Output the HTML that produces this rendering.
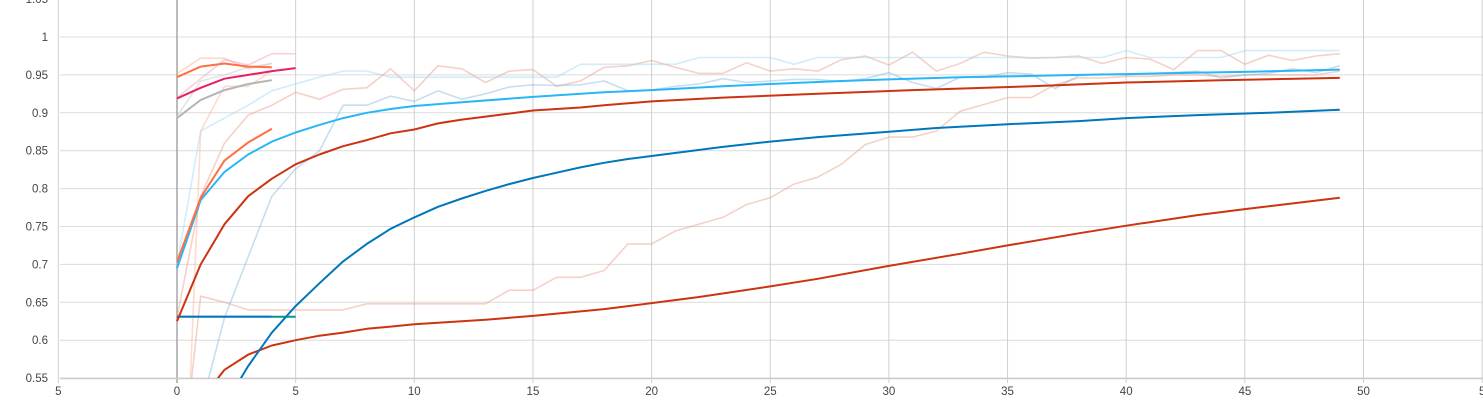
<!DOCTYPE html>
<html><head><meta charset="utf-8">
<style>
html,body{margin:0;padding:0;background:#fff;width:1483px;height:400px;overflow:hidden;}
svg{display:block;font-family:"Liberation Sans","DejaVu Sans",sans-serif;overflow:hidden;}
</style></head>
<body>
<svg id="chart" width="1483" height="400" viewBox="0 0 1483 400" xmlns="http://www.w3.org/2000/svg">
<defs><clipPath id="plotclip"><rect x="60" y="0" width="1423" height="378"/></clipPath></defs>
<g id="grid"></g>
<g id="series" clip-path="url(#plotclip)"></g>
<g id="axes"></g>
</svg>
<script>
const xTicks = [-5, 0, 5, 10, 15, 20, 25, 30, 35, 40, 45, 50, 55];
const xTickLabels = ["5","0","5","10","15","20","25","30","35","40","45","50","5"];
const yTicks = [0.55,0.6,0.65,0.7,0.75,0.8,0.85,0.9,0.95,1,1.05];
const yTickLabels = ["0.55","0.6","0.65","0.7","0.75","0.8","0.85","0.9","0.95","1","1.05"];

const rawRedX = [0,1,2,3,4,5,6,7,8,9,10,11,12,13,14,15,16,17,18,19,20,21,22,23,24,25,26,27,28,29,30,31,32,33,34,35,36,37,38,39,40,41,42,43,44,45,46,47,48,49];
const rawRedY = [0.63,0.79,0.86,0.897,0.91,0.927,0.918,0.931,0.933,0.958,0.929,0.962,0.958,0.94,0.955,0.957,0.935,0.942,0.96,0.962,0.969,0.96,0.952,0.952,0.966,0.955,0.958,0.955,0.97,0.975,0.963,0.98,0.955,0.965,0.98,0.975,0.972,0.973,0.975,0.965,0.973,0.971,0.957,0.982,0.982,0.964,0.976,0.969,0.975,0.978];
const rawCyanX = [0,1,2,3,4,5,6,7,8,9,10,11,12,13,14,15,16,17,18,19,20,21,22,23,24,25,26,27,28,29,30,31,32,33,34,35,36,37,38,39,40,41,42,43,44,45,46,47,48,49];
const rawCyanY = [0.70,0.876,0.893,0.91,0.929,0.938,0.947,0.955,0.955,0.947,0.947,0.947,0.947,0.947,0.947,0.947,0.947,0.964,0.964,0.964,0.964,0.964,0.973,0.973,0.973,0.973,0.964,0.973,0.973,0.973,0.973,0.973,0.973,0.973,0.973,0.973,0.973,0.973,0.973,0.973,0.982,0.973,0.973,0.973,0.973,0.982,0.982,0.982,0.982,0.982];
const rawBlueX = [1.25,2,3,4,5,6,7,8,9,10,11,12,13,14,15,16,17,18,19,20,21,22,23,24,25,26,27,28,29,30,31,32,33,34,35,36,37,38,39,40,41,42,43,44,45,46,47,48,49];
const rawBlueY = [0.54,0.63,0.71,0.79,0.826,0.85,0.91,0.91,0.922,0.915,0.929,0.918,0.925,0.934,0.937,0.936,0.937,0.942,0.929,0.93,0.935,0.938,0.945,0.94,0.942,0.944,0.944,0.941,0.945,0.953,0.94,0.932,0.947,0.947,0.953,0.951,0.932,0.949,0.951,0.95,0.952,0.953,0.955,0.946,0.95,0.952,0.958,0.953,0.962];
const rawLowX = [0.58,1,2,3,4,5,6,7,8,9,10,11,12,13,14,15,16,17,18,19,20,21,22,23,24,25,26,27,28,29,30,31,32,33,34,35,36,37,38,39,40,41,42,43,44,45,46,47,48,49];
const rawLowY = [0.54,0.658,0.65,0.64,0.64,0.64,0.64,0.64,0.648,0.648,0.648,0.648,0.648,0.648,0.666,0.666,0.683,0.683,0.692,0.727,0.727,0.744,0.753,0.762,0.779,0.788,0.806,0.815,0.832,0.858,0.868,0.868,0.876,0.902,0.911,0.92,0.92,0.937,0.946,0.946,0.948,0.948,0.95,0.95,0.948,0.95,0.95,0.95,0.95,0.955];
const rawPeachX = [0,1,2,3,4];
const rawPeachY = [0.952,0.972,0.972,0.958,0.965];
const rawPinkX = [0,1,2,3,4,5];
const rawPinkY = [0.92,0.945,0.97,0.963,0.978,0.978];
const rawGrayX = [0,1,2,3,4];
const rawGrayY = [0.895,0.942,0.95,0.96,0.965];
const rawOrangeLowX = [0.55,1,2,3,4];
const rawOrangeLowY = [0.54,0.876,0.935,0.935,0.955];

const flatBlueX = [0,1,2,3,4];
const flatBlueY = [0.631,0.631,0.631,0.631,0.631];
const flatTealX = [4,5];
const flatTealY = [0.631,0.631];
const orangeTopX = [0,1,2,3,4];
const orangeTopY = [0.947,0.961,0.965,0.961,0.96];
const pinkX = [0,1,2,3,4,5];
const pinkY = [0.919,0.933,0.945,0.95,0.955,0.959];
const grayX = [0,1,2,3,4];
const grayY = [0.893,0.917,0.93,0.938,0.943];
const orangeLowX = [0,1,2,3,4];
const orangeLowY = [0.703,0.788,0.837,0.861,0.879];
const cyanX = [0,1,2,3,4,5,6,7,8,9,10,12,15,18,20,23,25,28,30,33,35,38,40,43,45,49];
const cyanY = [0.695,0.785,0.822,0.845,0.862,0.874,0.884,0.893,0.9,0.905,0.909,0.914,0.921,0.927,0.93,0.935,0.938,0.942,0.944,0.947,0.948,0.95,0.951,0.953,0.954,0.957];
const redX = [0,1,2,3,4,5,6,7,8,9,10,11,12,13,14,15,17,18,20,23,27,31,36,40,44,49];
const redY = [0.625,0.70,0.753,0.79,0.813,0.832,0.845,0.856,0.864,0.873,0.878,0.886,0.891,0.895,0.899,0.903,0.907,0.91,0.915,0.92,0.925,0.93,0.935,0.94,0.943,0.946];
const blueX = [2.6,3,4,5,6,7,8,9,10,11,12,13,14,15,16,17,18,19,20,23,25,27,30,32,35,38,40,43,46,49];
const blueY = [0.545,0.566,0.61,0.645,0.675,0.704,0.727,0.747,0.762,0.776,0.787,0.797,0.806,0.814,0.821,0.828,0.834,0.839,0.843,0.855,0.862,0.868,0.875,0.88,0.885,0.889,0.893,0.897,0.9,0.904];
const lowX = [1.6,2,3,4,5,6,7,8,9,10,12,13,15,18,20,22,25,27,30,33,35,38,40,43,45,49];
const lowY = [0.545,0.561,0.581,0.593,0.6,0.606,0.61,0.615,0.618,0.621,0.625,0.627,0.632,0.641,0.649,0.657,0.671,0.681,0.698,0.714,0.725,0.741,0.751,0.765,0.773,0.788];

const NS = "http://www.w3.org/2000/svg";
function xs(v){ return 177 + v * 23.73; }
function ys(v){ return 37 + (1 - v) / 0.05 * 37.9; }

const grid = document.getElementById('grid');
const axes = document.getElementById('axes');
const series = document.getElementById('series');

yTicks.forEach((t, i) => {
  const l = document.createElementNS(NS, 'line');
  
  
  l.setAttribute('x1', 60); l.setAttribute('x2', 1483);
  l.setAttribute('y1', ys(t)); l.setAttribute('y2', ys(t));
  l.setAttribute('stroke', '#dcdcdc'); l.setAttribute('stroke-width', 1);
  grid.appendChild(l);
  const tx = document.createElementNS(NS, 'text');
  
  
  tx.setAttribute('x', 48); tx.setAttribute('y', ys(t) + 4);
  tx.setAttribute('text-anchor', 'end'); tx.setAttribute('font-size', '11.5');
  tx.setAttribute('fill', '#444');
  tx.textContent = yTickLabels[i];
  axes.appendChild(tx);
});
xTicks.forEach((t, i) => {
  const l = document.createElementNS(NS, 'line');
  
  
  l.setAttribute('x1', xs(t)); l.setAttribute('x2', xs(t));
  l.setAttribute('y1', 0); l.setAttribute('y2', 383);
  l.setAttribute('stroke', t === 0 ? '#999' : '#cfcfcf'); l.setAttribute('stroke-width', t === 0 ? 1.3 : 1);
  grid.appendChild(l);
  const tx = document.createElementNS(NS, 'text');
  
  
  tx.setAttribute('x', xs(t)); tx.setAttribute('y', 395);
  tx.setAttribute('text-anchor', 'middle'); tx.setAttribute('font-size', '11.5');
  tx.setAttribute('fill', '#444');
  tx.textContent = xTickLabels[i];
  axes.appendChild(tx);
});
const base = document.createElementNS(NS, 'line');


base.setAttribute('x1', 60); base.setAttribute('x2', 1483);
base.setAttribute('y1', 378.5); base.setAttribute('y2', 378.5);
base.setAttribute('stroke', '#ccc'); base.setAttribute('stroke-width', 1.5);
grid.appendChild(base);

function drawLine(xArr, yArr, color, width, opacity, name){
  const p = document.createElementNS(NS, 'path');
  
  
  let d = '';
  for (let i = 0; i < xArr.length; i++) d += (i ? 'L' : 'M') + xs(xArr[i]).toFixed(1) + ',' + ys(yArr[i]).toFixed(1);
  p.setAttribute('d', d);
  p.setAttribute('fill', 'none');
  p.setAttribute('stroke', color);
  p.setAttribute('stroke-width', width);
  p.setAttribute('stroke-opacity', opacity);
  p.setAttribute('stroke-linejoin', 'round');
  series.appendChild(p);
}
drawLine(rawLowX, rawLowY, '#e89a85', 1.6, 0.45, 'raw-low-red-series');
drawLine(rawRedX, rawRedY, '#e89a85', 1.6, 0.45, 'raw-red-series');
drawLine(rawBlueX, rawBlueY, '#7fb8e0', 1.6, 0.45, 'raw-blue-series');
drawLine(rawCyanX, rawCyanY, '#9ad8f5', 1.6, 0.45, 'raw-cyan-series');
drawLine(rawOrangeLowX, rawOrangeLowY, '#ffb8a0', 1.6, 0.5, 'raw-orange-low-series');
drawLine(rawPeachX, rawPeachY, '#ffb8a0', 1.6, 0.55, 'raw-orange-top-series');
drawLine(rawPinkX, rawPinkY, '#f5a0bd', 1.6, 0.5, 'raw-pink-series');
drawLine(rawGrayX, rawGrayY, '#cccccc', 1.6, 0.5, 'raw-gray-series');

drawLine(flatTealX, flatTealY, '#009988', 2, 1, 'teal-flat-series');
drawLine(flatBlueX, flatBlueY, '#0077bb', 2.2, 1, 'blue-flat-series');
drawLine(lowX, lowY, '#cc3311', 2, 1, 'low-red-series');
drawLine(blueX, blueY, '#0077bb', 2, 1, 'blue-series');
drawLine(redX, redY, '#cc3311', 2, 1, 'red-series');
drawLine(cyanX, cyanY, '#29b6f6', 2, 1, 'cyan-series');
drawLine(orangeLowX, orangeLowY, '#ff7043', 2, 1, 'orange-low-series');
drawLine(grayX, grayY, '#b5b5b5', 2, 1, 'gray-series');
drawLine(pinkX, pinkY, '#e91e63', 2, 1, 'pink-series');
drawLine(orangeTopX, orangeTopY, '#ff7043', 2, 1, 'orange-top-series');
</script>
</body></html>
